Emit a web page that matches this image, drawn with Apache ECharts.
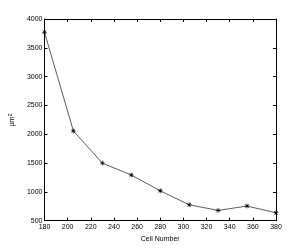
<!DOCTYPE html>
<html><head><meta charset="utf-8">
<script src="https://cdn.jsdelivr.net/npm/echarts@6/dist/echarts.min.js"></script>
<style>html,body{margin:0;padding:0;background:#fff}#c{width:305px;height:249px}</style>
</head><body><div id="c"></div>
<script>
const cellNumbers = [180, 205, 230, 255, 280, 305, 330, 355, 380];
const areaValues = [3770, 2056, 1500, 1292, 1019, 776, 679, 754, 637];
const xTicks = [180, 200, 220, 240, 260, 280, 300, 320, 340, 360, 380];
const yTicks = [500, 1000, 1500, 2000, 2500, 3000, 3500, 4000];

const chart = echarts.init(document.getElementById('c'), null, {renderer: 'canvas'});
const font = 'Liberation Sans, Arial, sans-serif';
const axisCommon = {
  axisLine: {show: true, onZero: false, lineStyle: {color: '#000', width: 1}},
  axisTick: {show: true, inside: true, length: 3, lineStyle: {color: '#000'}},
  splitLine: {show: false}
};
const star = 'path://M4,0L5,0L5,9L4,9Z M0,4L9,4L9,5L0,5Z M1,1.7L1.7,1L8,7.3L7.3,8Z M7.3,1L8,1.7L1.7,8L1,7.3Z';
chart.setOption({
  animation: false,
  grid: {left: 39.5, right: 29, top: 19, bottom: 28.3, containLabel: false},
  xAxis: [
    Object.assign({type: 'value', min: xTicks[0], max: xTicks[xTicks.length-1], interval: 20, position: 'bottom',
      name: 'Cell Number', nameLocation: 'middle', nameGap: 12,
      nameTextStyle: {fontFamily: font, fontSize: 7, color: '#000'},
      axisLabel: {fontFamily: font, fontSize: 7, color: '#000', margin: 3, formatter: v => String(v)}}, axisCommon),
    Object.assign({type: 'value', min: xTicks[0], max: xTicks[xTicks.length-1], interval: 20, position: 'top',
      axisLabel: {show: false}}, axisCommon)
  ],
  yAxis: [
    Object.assign({type: 'value', min: yTicks[0], max: yTicks[yTicks.length-1], interval: 500, position: 'left',
      name: '{a|μm}{b|2}', nameLocation: 'middle', nameGap: 26, nameRotate: 90,
      nameTextStyle: {fontFamily: font, fontSize: 7, color: '#000',
        rich: {a: {fontFamily: font, fontSize: 7, color: '#000'},
               b: {fontFamily: font, fontSize: 5, color: '#000', verticalAlign: 'top', padding: [0, 0, 4, 0]}}},
      axisLabel: {fontFamily: font, fontSize: 7, color: '#000', margin: 2, formatter: v => String(v)}}, axisCommon),
    Object.assign({type: 'value', min: yTicks[0], max: yTicks[yTicks.length-1], interval: 500, position: 'right',
      axisLabel: {show: false}}, axisCommon)
  ],
  series: [{
    type: 'line',
    data: cellNumbers.map((x, i) => [x, areaValues[i]]),
    symbol: star, symbolSize: 5,
    lineStyle: {color: '#333', width: 0.8},
    itemStyle: {color: '#000'}
  }]
});
</script></body></html>
